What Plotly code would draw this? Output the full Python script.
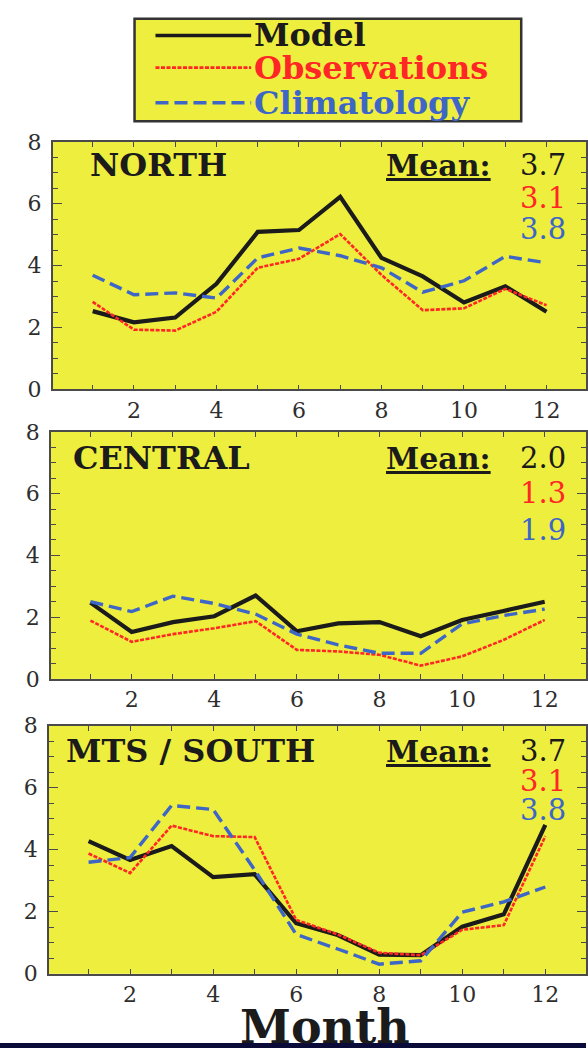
import plotly.graph_objects as go

# Monthly values for the three regions
months = list(range(1, 13))

north_model = [2.53, 2.17, 2.32, 3.41, 5.09, 5.15, 6.22, 4.25, 3.65, 2.81, 3.33, 2.51]
north_obs = [2.83, 1.93, 1.90, 2.51, 3.93, 4.22, 5.02, 3.70, 2.56, 2.62, 3.25, 2.72]
north_clim = [3.69, 3.06, 3.12, 2.95, 4.25, 4.57, 4.32, 3.93, 3.14, 3.51, 4.30, 4.09]

central_model = [2.47, 1.52, 1.84, 2.03, 2.70, 1.54, 1.80, 1.84, 1.38, 1.91, 2.20, 2.50]
central_obs = [1.89, 1.20, 1.45, 1.64, 1.87, 0.94, 0.89, 0.78, 0.43, 0.73, 1.26, 1.91]
central_clim = [2.50, 2.18, 2.68, 2.44, 2.10, 1.45, 1.10, 0.83, 0.83, 1.78, 2.05, 2.26]

south_model = [4.28, 3.67, 4.12, 3.12, 3.21, 1.63, 1.25, 0.62, 0.60, 1.52, 1.92, 4.80]
south_obs = [3.88, 3.25, 4.78, 4.44, 4.41, 1.74, 1.27, 0.68, 0.60, 1.42, 1.57, 4.44]
south_clim = [3.60, 3.75, 5.43, 5.30, 3.35, 1.27, 0.80, 0.31, 0.42, 1.99, 2.32, 2.80]

region_names = ["NORTH", "CENTRAL", "MTS / SOUTH"]
mean_labels = [["3.7", "3.1", "3.8"], ["2.0", "1.3", "1.9"], ["3.7", "3.1", "3.8"]]
series_names = ["Model", "Observations", "Climatology"]
x_tick_labels = ["", "2", "", "4", "", "6", "", "8", "", "10", "", "12"]
y_tick_vals = [0, 2, 4, 6, 8]

W, H = 588, 1061
YELLOW = "#EEEE3E"
BLACK = "#1b1b1b"
RED = "#FF2626"
BLUE = "#3D66C6"
SERIF = "DejaVu Serif"

styles = [
    dict(color=BLACK, width=4.2, dash="solid"),
    dict(color=RED, width=2.6, dash="4px,1.5px"),
    dict(color=BLUE, width=3.4, dash="13px,6px"),
]

panels = [
    (north_model, north_obs, north_clim),
    (central_model, central_obs, central_clim),
    (south_model, south_obs, south_clim),
]

# pixel frames of each panel: left, top, bottom, x-range
frames = [
    (53, 133, 386.5, [0.034, 12.957]),
    (51, 430, 683, [0.042, 13.0]),
    (49, 731, 985, [0.043, 12.98]),
]

def px(x):
    return x / W

def py(y):
    return 1 - y / H

fig = go.Figure()

for i, (series, frame) in enumerate(zip(panels, frames)):
    sfx = "" if i == 0 else str(i + 1)
    for vals, st, nm in zip(series, styles, series_names):
        fig.add_trace(go.Scatter(
            x=months, y=vals, mode="lines", name=nm, showlegend=False,
            line=dict(color=st["color"], width=st["width"], dash=st["dash"]),
            xaxis="x" + sfx, yaxis="y" + sfx,
        ))
    left, top, bottom, xr = frame
    axis_common = dict(
        showline=True, linecolor="#4a4a4a", linewidth=1.6, mirror="ticks",
        ticks="inside", tickcolor="#4a4a4a", showgrid=False, zeroline=False,
        tickfont=dict(family=SERIF, size=22, color="#2e2e2e"),
    )
    fig.layout["xaxis" + sfx] = dict(
        axis_common, domain=[px(left), 1.0], range=xr, anchor="y" + sfx,
        tickmode="array", tickvals=months, ticktext=x_tick_labels, ticklen=5,
        tickwidth=1.2, ticklabelstandoff=0,
    )
    fig.layout["yaxis" + sfx] = dict(
        axis_common, domain=[py(bottom), py(top)], range=[0, 8], anchor="x" + sfx,
        tickmode="array", tickvals=y_tick_vals, ticklen=9, tickwidth=1.2,
        ticklabelstandoff=5,
        minor=dict(dtick=0.5, ticks="inside", ticklen=5, tickcolor="#4a4a4a", tickwidth=1),
    )

annotations = []
shapes = []

# region titles and mean values
title_pos = [(88, 157), (71, 457), (64, 757)]
mean_rows = [(157, 190, 222), (457, 493, 530), (757, 788, 817)]
mean_colors = [BLACK, RED, BLUE]
for i in range(3):
    tx, ty = title_pos[i]
    annotations.append(dict(
        text="<b>%s</b>" % region_names[i], x=px(tx), y=py(ty), xref="paper", yref="paper",
        xanchor="left", yanchor="middle", showarrow=False,
        font=dict(family=SERIF, size=32, color=BLACK),
    ))
    annotations.append(dict(
        text="<b>Mean:</b>", x=px(385), y=py(mean_rows[i][0]), xref="paper", yref="paper",
        xanchor="left", yanchor="middle", showarrow=False,
        font=dict(family=SERIF, size=30, color=BLACK, lineposition="under"),
    ))
    for lab, yy, col in zip(mean_labels[i], mean_rows[i], mean_colors):
        annotations.append(dict(
            text=lab, x=px(570), y=py(yy), xref="paper", yref="paper",
            xanchor="right", yanchor="middle", showarrow=False,
            font=dict(family=SERIF, size=29, color=col),
        ))

# legend box
shapes.append(dict(type="rect", xref="paper", yref="paper",
                   x0=px(135), x1=px(523), y0=py(112), y1=py(7),
                   fillcolor=YELLOW, line=dict(color="#333333", width=2.5), layer="below"))
legend_rows = [24, 57, 93]
legend_colors = [BLACK, RED, BLUE]
for nm, st, yy, col in zip(series_names, styles, legend_rows, legend_colors):
    shapes.append(dict(type="line", xref="paper", yref="paper",
                       x0=px(156), x1=px(252), y0=py(yy), y1=py(yy),
                       line=dict(color=st["color"], width=min(st["width"], 3.4), dash=st["dash"])))
    annotations.append(dict(
        text="<b>%s</b>" % nm, x=px(253), y=py(yy), xref="paper", yref="paper",
        xanchor="left", yanchor="middle", showarrow=False,
        font=dict(family=SERIF, size=32, color=col),
    ))

# x-axis title
annotations.append(dict(
    text="<b>Month</b>", x=px(326), y=py(1040), xref="paper", yref="paper",
    xanchor="center", yanchor="middle", showarrow=False,
    font=dict(family=SERIF, size=46, color=BLACK),
))

# dark rule along the bottom edge
shapes.append(dict(type="rect", xref="paper", yref="paper",
                   x0=0, x1=1, y0=0, y1=py(1056),
                   fillcolor="#0b0b3a", line=dict(width=0)))

fig.update_layout(
    width=W, height=H, margin=dict(l=0, r=0, t=0, b=0),
    paper_bgcolor="white", plot_bgcolor=YELLOW,
    annotations=annotations, shapes=shapes, showlegend=False,
)

fig.write_html("out.html")
